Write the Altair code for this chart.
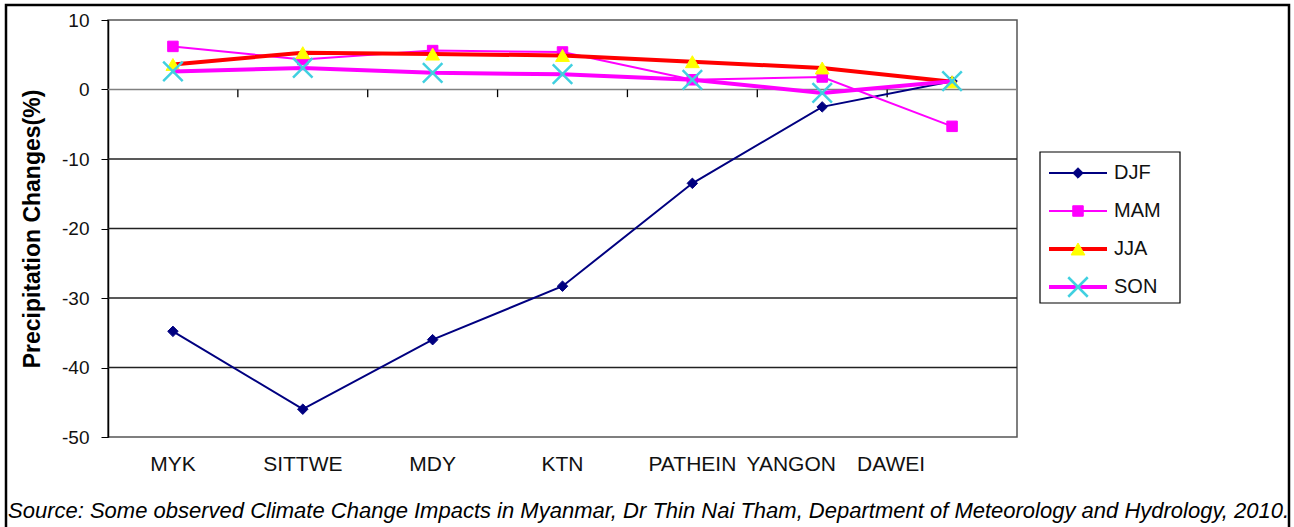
import altair as alt
import pandas as pd

categories = ["MYK", "SITTWE", "MDY", "KTN", "PATHEIN", "YANGON", "DAWEI"]
djf = [-34.8, -46.0, -36.0, -28.3, -13.5, -2.5, 1.2]
mam = [6.2, 4.3, 5.6, 5.4, 1.4, 1.8, -5.3]
jja = [3.6, 5.3, 5.1, 4.9, 4.0, 3.1, 1.1]
son = [2.6, 3.1, 2.4, 2.2, 1.4, -0.5, 1.2]
series_names = ["DJF", "MAM", "JJA", "SON"]
y_ticks = [10, 0, -10, -20, -30, -40, -50]
grid_values = [-10, -20, -30, -40]
source_text = ("Source: Some observed Climate Change Impacts in Myanmar, Dr Thin Nai Tham, "
               "Department of Meteorology and Hydrology, 2010.")

FONT = "Liberation Sans"
W, H = 909, 417

styles = {
    "DJF": dict(line="#000080", lw=2, shape="diamond", fill="#000080", stroke="#000080", size=110, sw=1),
    "MAM": dict(line="#FF00FF", lw=2, shape="square", fill="#FF00FF", stroke="#FF00FF", size=110, sw=1),
    "JJA": dict(line="#FF0000", lw=4, shape="triangle-up", fill="#FFFF00", stroke="#FFFF00", size=190, sw=1),
    "SON": dict(line="#FF00FF", lw=4, shape="M-1,-1L1,1M1,-1L-1,1", fill="transparent", stroke="#40D0E0", size=380, sw=2.5),
}
values = {"DJF": djf, "MAM": mam, "JJA": jja, "SON": son}

rows = []
for s in series_names:
    for c, v in zip(categories, values[s]):
        rows.append({"series": s, "cat": c, "value": v})
df = pd.DataFrame(rows)

xscale = alt.Scale(type="band", domain=categories, paddingInner=0, paddingOuter=0)
yscale = alt.Scale(domain=[-50, 10], nice=False, zero=False)

# the source figure's category labels drift left for the last two stations
label_shift = {
    "condition": [
        {"test": "datum.value === 'YANGON'", "value": -31},
        {"test": "datum.value === 'DAWEI'", "value": -61},
    ],
    "value": 0,
}
x_axis = alt.Axis(title=None, domain=False, ticks=False, labelFontSize=21, labelFont=FONT, labelAngle=0,
                  labelColor="#111", labelPadding=16, grid=False, labelOffset=label_shift,
                  labelOverlap=False, labelBound=False)
y_axis = alt.Axis(title="Precipitation Changes(%)", values=y_ticks, grid=False, domainColor="#000",
                  domainWidth=1.5, tickColor="#000", tickSize=7, labelFontSize=19, labelFont=FONT,
                  labelExpr="toString(datum.value)",
                  labelColor="#111", labelPadding=12, titleFont=FONT, titleFontSize=23,
                  titleFontWeight="bold", titleColor="#000", titlePadding=17)

def X(bp=0.5):
    return alt.X("cat:N", scale=xscale, axis=x_axis, sort=categories, bandPosition=bp)

def Y(field):
    return alt.Y(field, scale=yscale, axis=y_axis)

grid_df = pd.DataFrame({"value": grid_values})
grid = alt.Chart(grid_df).mark_rule(color="#222", strokeWidth=1.3).encode(y=Y("value:Q"))
zero = alt.Chart(pd.DataFrame({"value": [0]})).mark_rule(color="#808080", strokeWidth=1.5).encode(y=Y("value:Q"))
tick_df = pd.DataFrame({"cat": categories[1:]})
ticks = alt.Chart(tick_df).mark_rule(color="#000", strokeWidth=1.3).encode(
    x=X(0), y=alt.datum(0, scale=yscale, axis=y_axis), y2=alt.datum(-1.1))

main_layers = [grid, zero, ticks]
for s in series_names:
    st = styles[s]
    d = df[df.series == s]
    line = alt.Chart(d).mark_line(color=st["line"], strokeWidth=st["lw"]).encode(x=X(), y=Y("value:Q"))
    pts = alt.Chart(d).mark_point(shape=st["shape"], filled=False, fill=st["fill"], stroke=st["stroke"],
                                  strokeWidth=st["sw"], size=st["size"], opacity=1).encode(x=X(), y=Y("value:Q"))
    main_layers += [line, pts]

main = alt.layer(*main_layers)

# legend + decorations group with its own scales
leg_df = pd.DataFrame({"series": series_names})
ly = alt.Scale(type="band", domain=series_names, range=[134, 286], paddingInner=0, paddingOuter=0)
lx = alt.Scale(domain=[0, 1], range=[941, 999])
leg_layers = []
frame = alt.Chart(pd.DataFrame({"a": [0]})).mark_rect(fill="transparent", stroke="#000", strokeWidth=2.5).encode(
    x=alt.value(-102), x2=alt.value(1181), y=alt.value(-15), y2=alt.value(540))
source = alt.Chart(pd.DataFrame({"t": [source_text]})).mark_text(
    align="left", baseline="middle", font=FONT, fontSize=22, fontStyle="italic", color="#000").encode(
    text="t:N", x=alt.value(-100), y=alt.value(491))
box = alt.Chart(pd.DataFrame({"a": [0]})).mark_rect(fill="transparent", stroke="#000", strokeWidth=1.2).encode(
    x=alt.value(932), x2=alt.value(1072), y=alt.value(132), y2=alt.value(283))
leg_layers += [frame, source, box]
for s in series_names:
    st = styles[s]
    d = leg_df[leg_df.series == s]
    ly_enc = alt.Y("series:N", scale=ly, axis=None, sort=series_names)
    r = alt.Chart(d).mark_rule(color=st["line"], strokeWidth=st["lw"]).encode(
        x=alt.datum(0, scale=lx, axis=None), x2=alt.datum(1), y=ly_enc)
    p = alt.Chart(d).mark_point(shape=st["shape"], filled=False, fill=st["fill"], stroke=st["stroke"],
                                strokeWidth=st["sw"], size=st["size"], opacity=1).encode(
        x=alt.datum(0.5, scale=lx, axis=None), y=ly_enc)
    t = alt.Chart(d).mark_text(align="left", baseline="middle", font=FONT, fontSize=20, color="#111", dx=7).encode(
        x=alt.datum(1, scale=lx, axis=None), y=ly_enc, text="series:N")
    leg_layers += [r, p, t]
legend = alt.layer(*leg_layers)

chart = alt.layer(main, legend).resolve_scale(x="independent", y="independent").properties(
    width=W, height=H,
    autosize=alt.AutoSizeParams(type="none"),
    padding={"left": 108, "top": 20, "right": 277, "bottom": 90},
    background="white",
).configure_view(stroke="#555", strokeWidth=1.5)

chart.save("out.html", embed_options={"renderer": "svg", "actions": False})
